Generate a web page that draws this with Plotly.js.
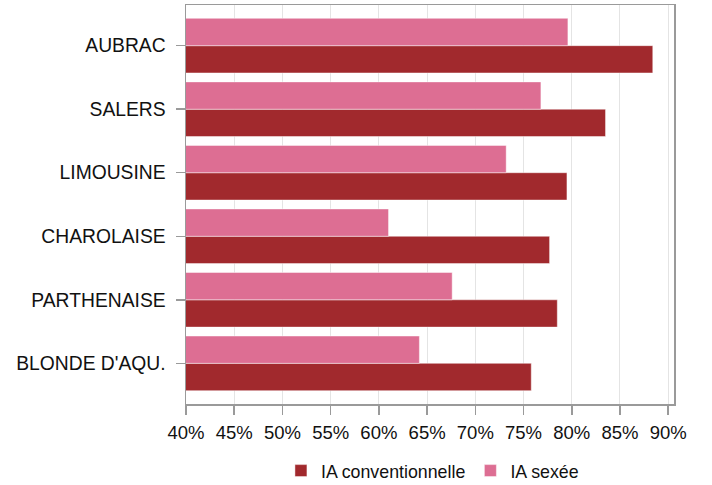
<!DOCTYPE html>
<html>
<head>
<meta charset="utf-8">
<script src="https://cdn.plot.ly/plotly-3.0.1.min.js"></script>
<style>html,body{margin:0;padding:0;background:#fff;}#chart{width:712px;height:485px;}</style>
</head>
<body>
<div id="chart"></div>
<script>
// Categories listed bottom to top
const breeds = ["BLONDE D'AQU.", "PARTHENAISE", "CHAROLAISE", "LIMOUSINE", "SALERS", "AUBRAC"];
const iaConventionnelle = [75.8, 78.5, 77.7, 79.5, 83.5, 88.4];
const iaSexee = [64.2, 67.6, 61.0, 73.2, 76.8, 79.6];
const seriesNames = ["IA conventionnelle", "IA sexée"];
const xTicks = [40, 45, 50, 55, 60, 65, 70, 75, 80, 85, 90];

const font = "Liberation Sans, Arial, sans-serif";
const traces = [
  {type: 'bar', orientation: 'h', name: seriesNames[0], y: breeds, x: iaConventionnelle,
   marker: {color: '#A1292D', line: {color: 'rgba(255,255,255,0.45)', width: 1}}, hoverinfo: 'x+y'},
  {type: 'bar', orientation: 'h', name: seriesNames[1], y: breeds, x: iaSexee,
   marker: {color: '#DD6E93', line: {color: 'rgba(255,255,255,0.45)', width: 1}}, hoverinfo: 'x+y'}
];
const layout = {
  width: 712, height: 485,
  margin: {l: 186, r: 38, t: 5, b: 81, autoexpand: false},
  paper_bgcolor: '#fff', plot_bgcolor: '#fff',
  barmode: 'group', bargap: 0.14, bargroupgap: 0,
  font: {family: font, size: 18, color: '#111'},
  xaxis: {
    range: [40, 90.6], tickvals: xTicks, ticktext: xTicks.map(v => v + '%'),
    showgrid: true, gridcolor: '#e4e4e4', gridwidth: 1,
    showline: true, linecolor: '#9a9a9a', linewidth: 1.5, mirror: true,
    ticks: 'outside', ticklen: 9, tickcolor: '#9a9a9a', tickwidth: 1.5,
    zeroline: false, tickfont: {size: 18.5, color: '#111'}, ticklabelstandoff: 2
  },
  yaxis: {
    type: 'category', categoryorder: 'array', categoryarray: breeds,
    range: [-0.64, 5.64],
    showgrid: false, showline: true, linecolor: '#9a9a9a', linewidth: 1.5, mirror: true,
    ticks: 'outside', ticklen: 9, tickcolor: '#9a9a9a', tickwidth: 1.5,
    tickfont: {size: 19.3, color: '#111'}, ticklabelstandoff: 6
  },
  showlegend: true,
  legend: {orientation: 'h', x: 0.505, xanchor: 'center', y: -0.168, yanchor: 'middle',
           font: {size: 17.8, color: '#111'}, traceorder: 'normal', itemwidth: 30}
};
Plotly.newPlot('chart', traces, layout, {displayModeBar: false, staticPlot: true});
</script>
</body>
</html>
